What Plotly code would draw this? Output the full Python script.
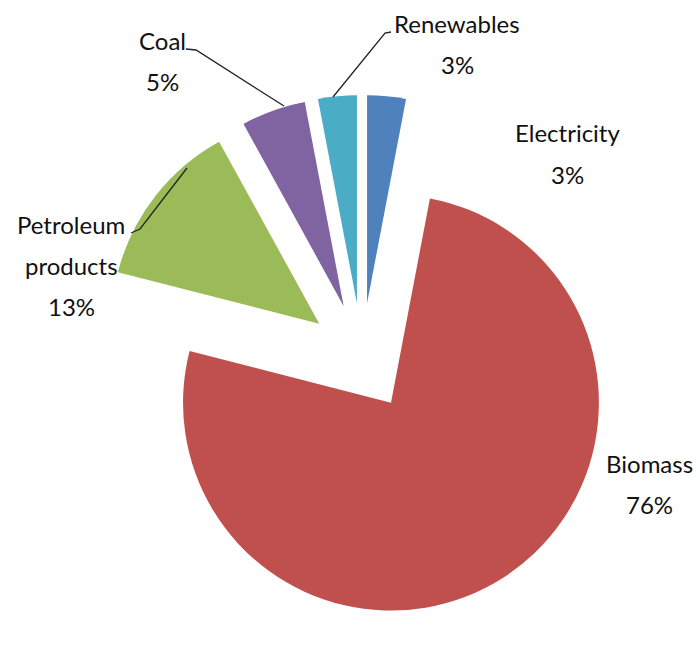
import plotly.graph_objects as go

# ---- data ----
labels = ["Electricity", "Biomass", "Petroleum products", "Coal", "Renewables"]
values = [3, 76, 13, 5, 3]
colors = ["#4F81BD", "#C0504D", "#9BBB59", "#8064A2", "#4BACC6"]
pulls = [0.26, 0.26, 0.26, 0.26, 0.26]

# ---- label placement (pixel centre of first text line) ----
label_pos = {
    "Electricity": (567, 133),
    "Biomass": (649, 463),
    "Petroleum products": (71, 224),
    "Coal": (162, 41),
    "Renewables": (457, 24),
}
line_gap = 41

# leader lines (pixel polylines)
leaders = [
    [(186, 49), (196, 50), (284, 106)],
    [(391, 32), (385, 33), (333, 97)],
    [(131, 233), (140, 229), (187, 168)],
]

W, H = 697, 647


def px(x):
    return x / W


def py(y):
    return 1 - y / H


fig = go.Figure(
    go.Pie(
        labels=labels,
        values=values,
        marker=dict(colors=colors, line=dict(width=0)),
        pull=pulls,
        sort=False,
        direction="clockwise",
        rotation=0,
        textinfo="none",
        showlegend=False,
        domain=dict(x=[100 / W, 624 / W], y=[24 / H, 556 / H]),
    )
)

annotations = []
for lab, val in zip(labels, values):
    x0, y0 = label_pos[lab]
    lines = lab.split(" ") + [f"{val}%"]
    for i, t in enumerate(lines):
        annotations.append(
            dict(
                x=px(x0),
                y=py(y0 + i * line_gap),
                xref="paper",
                yref="paper",
                text=t,
                showarrow=False,
                xanchor="center",
                yanchor="middle",
                font=dict(family="Lato", size=24, color="#111111"),
            )
        )

shapes = []
for pts in leaders:
    path = "M " + " L ".join(f"{px(x)},{py(y)}" for x, y in pts)
    shapes.append(
        dict(type="path", xref="paper", yref="paper", path=path,
             line=dict(color="#222222", width=1.3))
    )

fig.update_layout(
    width=W,
    height=H,
    margin=dict(l=0, r=0, t=0, b=0),
    paper_bgcolor="white",
    plot_bgcolor="white",
    annotations=annotations,
    shapes=shapes,
)

fig.write_html("out.html")
